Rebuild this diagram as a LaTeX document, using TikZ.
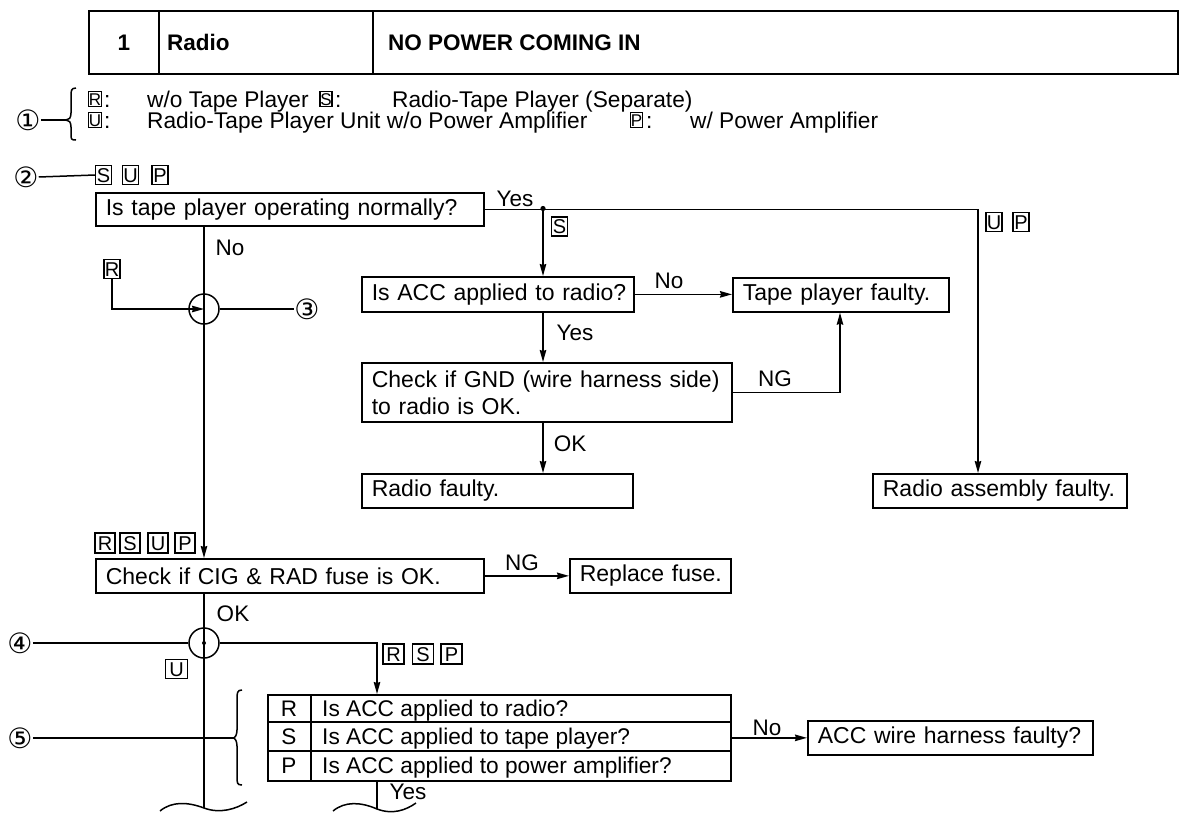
\documentclass[tikz,border=0pt]{standalone}
\usepackage{fontspec}
\setmainfont{Liberation Sans}
\newfontfamily\circfont{DejaVu Sans}
\usetikzlibrary{arrows.meta}
\tikzset{
  fc/.style={draw, line width=1.7pt, inner xsep=10pt, inner ysep=0pt, anchor=north west, align=left, font=\fontsize{23}{27}\selectfont},
  conn/.style={line width=1.5pt},
  arr/.style={conn, -{Stealth[length=12pt,width=6.5pt,inset=1pt]}},
  lab/.style={font=\fontsize{22.5}{26}\selectfont, inner sep=0pt, text height=16pt, text depth=0pt},
  lgtext/.style={font=\fontsize{22.7}{26}\selectfont, inner sep=0pt, text height=16pt, text depth=0pt, anchor=west},
  hdtext/.style={font=\bfseries\fontsize{22.5}{26}\selectfont, inner sep=0pt, text height=16pt, text depth=0pt},
  lbox/.style={draw, line width=1.2pt, inner sep=0pt, minimum width=16pt, minimum height=19pt, text height=14pt, text depth=0pt, font=\fontsize{20}{20}\selectfont},
  lboxb/.style={lbox, minimum width=20pt, minimum height=20pt},
  lgbox/.style={draw, line width=1.1pt, inner sep=0pt, minimum width=12pt, minimum height=15pt, text height=12pt, text depth=0pt, font=\fontsize{17}{17}\selectfont},
  circnum/.style={font=\circfont\fontsize{28}{28}\selectfont, inner sep=0pt},
  jn/.style={draw, circle, line width=1.5pt, minimum size=30pt, inner sep=0pt},
}
\begin{document}
\begin{tikzpicture}[x=1pt,y=-1pt]
\useasboundingbox (0,0) rectangle (1179,812);
\fill[white] (0,0) rectangle (1179,812);

% header
\node[draw, line width=1.7pt, minimum width=1089pt, minimum height=63pt, anchor=north west, inner sep=0pt] (hdr) at (88,10) {};
\draw[line width=1.5pt] (159,10) -- (159,73);
\draw[line width=1.5pt] (373,10) -- (373,73);
\node[hdtext] (h1) at (124,42) {1};
\node[hdtext, anchor=west] (h2) at (167,42) {Radio};
\node[hdtext, anchor=west] (h3) at (388,42) {NO POWER COMING IN};

% legend
\node[circnum] (n1) at (28,120) {①};
\draw[conn] (n1.east) -- (66,120) coordinate (b1tip);
\draw[conn] (76,88) .. controls (71,88) and (71,91) .. (71,96) -- (71,113) .. controls (71,118) and (69,120) .. (b1tip) .. controls (69,120) and (71,122) .. (71,127) -- (71,134) .. controls (71,139) and (71,140) .. (76,140);
\node[lgbox] (lR) at (95,99) {R};
\node[lgtext] (lRc) at (104,99) {:};
\node[lgtext] (lRt) at (147,99) {w/o Tape Player};
\node[lgbox] (lS) at (326,99) {S};
\node[lgtext] (lSc) at (335,99) {:};
\node[lgtext] (lSt) at (392,99) {Radio-Tape Player (Separate)};
\node[lgbox] (lU) at (95,120) {U};
\node[lgtext] (lUc) at (104,120) {:};
\node[lgtext] (lUt) at (147,120) {Radio-Tape Player Unit w/o Power Amplifier};
\node[lgbox] (lP) at (636.5,120) {P};
\node[lgtext] (lPc) at (646,120) {:};
\node[lgtext] (lPt) at (690,120) {w/ Power Amplifier};

% (2)
\node[circnum] (n2) at (26,177) {②};
\node[lbox] (s2) at (103.5,175) {S};
\node[lbox] (u2) at (130.5,175) {U};
\node[lbox] (p2) at (160,175) {P};
\draw[conn] (n2.east) -- (s2.west);

% boxes
\node[fc, text width=368pt, minimum height=33pt] (A) at (95,192) {\mbox{Is tape player operating normally?}};
\node[fc, text width=252pt, minimum height=35pt] (B) at (361,276) {\mbox{Is ACC applied to radio?}};
\node[fc, text width=196pt, minimum height=34pt] (C) at (732,277) {\mbox{Tape player faulty.}};
\node[fc, text width=350pt, minimum height=59pt] (D) at (361,362) {\mbox{Check if GND (wire harness side)}\\\mbox{to radio is OK.}};
\node[fc, text width=251pt, minimum height=34pt] (E) at (361,473) {\mbox{Radio faulty.}};
\node[fc, text width=234pt, minimum height=34pt] (F) at (872,473) {\mbox{Radio assembly faulty.}};
\node[fc, text width=368pt, minimum height=34pt] (G) at (95,558) {\mbox{Check if CIG \& RAD fuse is OK.}};
\node[fc, text width=141pt, minimum height=34pt] (H) at (569,558) {\mbox{Replace fuse.}};
\node[fc, text width=265pt, minimum height=34pt] (I) at (807,720) {\mbox{ACC wire harness faulty?}};

% table
\node[draw, line width=1.7pt, minimum width=463pt, minimum height=86pt, anchor=north west, inner sep=0pt] (T) at (267,694) {};
\draw[line width=1.6pt] (267,722) -- (730,722);
\draw[line width=1.6pt] (267,751) -- (730,751);
\draw[line width=1.6pt] (311,694) -- (311,780);
\node[lab] (tR) at (289,708) {R};
\node[lab] (tS) at (289,736.5) {S};
\node[lab] (tP) at (289,765.5) {P};
\node[lgtext] (tRt) at (322,708) {Is ACC applied to radio?};
\node[lgtext] (tSt) at (322,736.5) {Is ACC applied to tape player?};
\node[lgtext] (tPt) at (322,765.5) {Is ACC applied to power amplifier?};

% yes branch
\coordinate (dot) at (543,208.5);
\coordinate (fx) at (978,0);
\draw[arr] (A.east) -| (fx |- F.north);
\fill (dot) circle (2.6pt);
\node[lab] (yA) at (515,198) {Yes};
\node[lbox] (sS) at (559.5,226.5) {S};
\node[lbox] (uU) at (994,222) {U};
\node[lbox] (uP) at (1021,222) {P};
\draw[arr] (dot) -- (dot |- B.north);
\draw[arr] (B.east) -- (B.east -| C.west);
\node[lab] (nB) at (669,280) {No};
\draw[arr] (dot |- B.south) -- (dot |- D.north);
\node[lab] (yB) at (575,332) {Yes};
\coordinate (ngx) at (840,0);
\draw[arr] (D.east) -| (ngx |- C.south);
\node[lab] (ngD) at (775,378) {NG};
\draw[arr] (dot |- D.south) -- (dot |- E.north);
\node[lab] (okD) at (570,443) {OK};

% no branch
\coordinate (nx) at (204,0);
\node[jn] (c1) at (204,309) {};
\draw[arr] (nx |- A.south) -- (nx |- G.north);
\node[lab] (nA) at (230,247) {No};
\node[lbox] (rR) at (112,269) {R};
\draw[arr] (rR.south) |- (c1.center);
\node[circnum] (n3) at (307,309) {③};
\draw[conn] (c1.east) -- (n3.west);

\node[lboxb] (g1) at (105,543) {R};
\node[lboxb] (g2) at (130,543) {S};
\node[lboxb] (g3) at (158,543) {U};
\node[lboxb] (g4) at (185,543) {P};

\draw[arr] (G.east) -- (G.east -| H.west);
\node[lab] (ngG) at (522,562) {NG};
\node[lab] (okG) at (233,613) {OK};

\node[jn] (c2) at (204,643) {};
\fill (c2.center) circle (2pt);
\coordinate (lend) at (204,808);
\draw[conn] (nx |- G.south) -- (lend);
\node[circnum] (n4) at (20,643) {④};
\draw[conn] (n4.east) -- (c2.west);
\coordinate (rx) at (377,0);
\draw[arr] (c2.east) -| (rx |- T.north);
\node[lbox, minimum width=21pt, minimum height=20pt] (k1) at (393.5,654) {R};
\node[lbox, minimum width=21pt, minimum height=20pt] (k2) at (423,654) {S};
\node[lbox, minimum width=21pt, minimum height=20pt] (k3) at (451.5,654) {P};
\node[lbox, minimum width=22pt, minimum height=19pt] (uu) at (176.5,669) {U};

% (5)
\node[circnum] (n5) at (20,738) {⑤};
\draw[conn] (n5.east) -- (233,738) coordinate (b5tip);
\draw[conn] (242,690) .. controls (237,690) and (237,693) .. (237,700) -- (237,730) .. controls (237,735) and (235,738) .. (b5tip) .. controls (235,738) and (237,741) .. (237,746) -- (237,776) .. controls (237,783) and (237,785) .. (242,785);

\draw[arr] (T.east) -- (T.east -| I.west);
\node[lab] (nT) at (767,727) {No};
\node[lab] (yT) at (408,791) {Yes};
\coordinate (rend) at (377,809);
\draw[conn] (rx |- T.south) -- (rend);

% break marks
\draw[conn] (160,811) .. controls (172,801) and (188,802) .. (lend) .. controls (220,814) and (236,809) .. (247,802);
\draw[conn] (333,811) .. controls (345,801) and (361,802) .. (rend) .. controls (393,815) and (406,810) .. (416,803);
\end{tikzpicture}
\end{document}
